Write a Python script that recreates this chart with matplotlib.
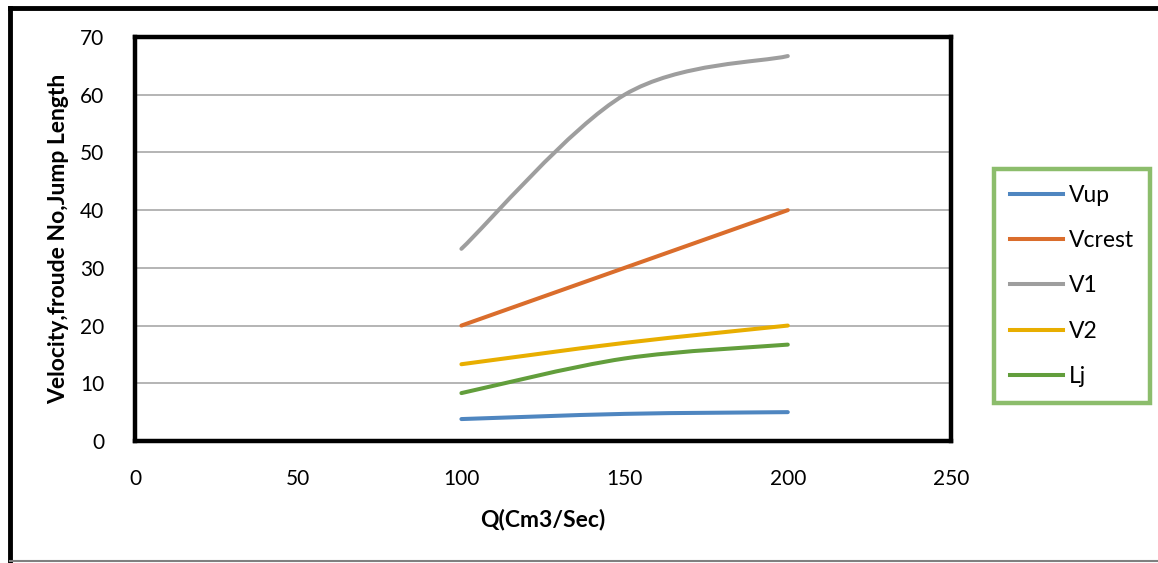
import numpy as np
import matplotlib.pyplot as plt
from matplotlib.path import Path
from matplotlib.patches import PathPatch
from matplotlib.lines import Line2D

plt.rcParams['font.family'] = ['Lato', 'DejaVu Sans']

# Data
q = [100, 150, 200]
v_up = [3.8, 4.7, 5.0]
v_crest = [20.0, 30.0, 40.0]
v1 = [33.3, 60.0, 66.7]
v2 = [13.3, 17.0, 20.0]
lj = [8.3, 14.3, 16.7]

series = [
    ("Vup", v_up, "#4F86C0"),
    ("Vcrest", v_crest, "#DA6D2C"),
    ("V1", v1, "#9E9E9E"),
    ("V2", v2, "#E8AE00"),
    ("Lj", lj, "#629E3C"),
]


def smooth_path(x, y):
    # Excel-style smoothed line: cubic Bezier segments (Catmull-Rom, tension 1/6)
    pts = np.column_stack([x, y]).astype(float)
    n = len(pts)
    verts = [pts[0]]
    codes = [Path.MOVETO]
    for i in range(n - 1):
        p0 = pts[i - 1] if i > 0 else pts[i]
        p1 = pts[i]
        p2 = pts[i + 1]
        p3 = pts[i + 2] if i + 2 < n else pts[i + 1]
        c1 = p1 + (p2 - p0) / 6.0
        c2 = p2 - (p3 - p1) / 6.0
        verts += [c1, c2, p2]
        codes += [Path.CURVE4] * 3
    return Path(verts, codes)


fig = plt.figure(figsize=(11.58, 5.63), dpi=100)
ax = fig.add_axes([135 / 1158, 1 - 441 / 563, (951 - 135) / 1158, (441 - 37) / 563])

for name, vals, col in series:
    patch = PathPatch(smooth_path(q, vals), facecolor="none", edgecolor=col,
                      linewidth=2.9, capstyle="round", joinstyle="round", zorder=3)
    ax.add_patch(patch)

ax.set_xlim(0, 250)
ax.set_ylim(0, 70)
ax.set_xticks(range(0, 251, 50))
ax.set_yticks(range(0, 71, 10))
ax.tick_params(length=0, labelsize=15)
ax.tick_params(axis="x", pad=20)
ax.tick_params(axis="y", pad=22)
ax.yaxis.grid(True, color="#A0A0A0", linewidth=1.1)
ax.set_axisbelow(True)
for sp in ax.spines.values():
    sp.set_linewidth(3.2)
    sp.set_color("black")

ax.set_xlabel("Q(Cm3/Sec)", fontsize=16.5, fontweight="bold", labelpad=14)
ax.set_ylabel("Velocity,froude No,Jump Length", fontsize=16.5, fontweight="bold", labelpad=8)

# Legend
handles = [Line2D([0], [0], color=c, linewidth=2.9) for _, _, c in series]
labels = [n for n, _, _ in series]
leg = fig.legend(handles, labels, loc="center", bbox_to_anchor=(1072 / 1158, 1 - 286 / 563),
                 fontsize=16.5, frameon=True, fancybox=False, handlelength=2.3,
                 labelspacing=1.05, borderpad=0.7, handletextpad=0.25)
leg.get_frame().set_edgecolor("#70AD47")
leg.get_frame().set_linewidth(3.2)

# Outer chart frame
fig.add_artist(Line2D([10 / 1158, 10 / 1158], [1 - 8 / 563, 1 - 561 / 563], color="black", linewidth=3.5))
fig.add_artist(Line2D([10 / 1158, 1.0], [1 - 8 / 563, 1 - 8 / 563], color="black", linewidth=3.5))
fig.add_artist(Line2D([10 / 1158, 1.0], [1 - 561 / 563, 1 - 561 / 563], color="#808080", linewidth=1.5))

fig.savefig("out.png", dpi=100)
